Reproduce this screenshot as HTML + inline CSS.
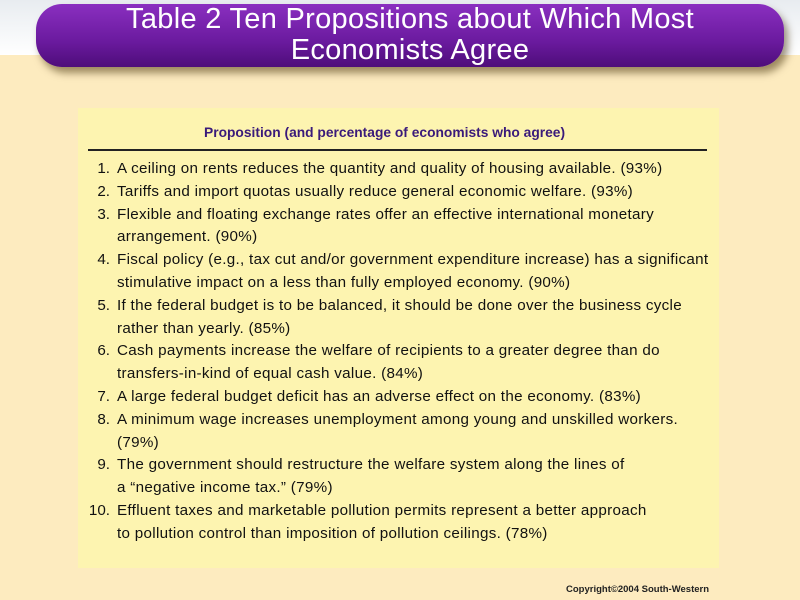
<!DOCTYPE html>
<html><head><meta charset="utf-8"><style>
body{margin:0;width:800px;height:600px;overflow:hidden;position:relative;font-family:"Liberation Sans",sans-serif;background:#fdebbf}
#top{position:absolute;left:0;top:0;width:800px;height:55px;background:linear-gradient(#e8ecf0,#ffffff)}
#banner{position:absolute;left:36px;top:4px;width:748px;height:63px;border-radius:26px;background:linear-gradient(#8a2fc0,#6a1a9e 60%,#4e0d7a);box-shadow:4px 6px 8px rgba(60,40,0,.5);color:#fff;text-align:center;font-size:29px;line-height:31px;letter-spacing:0.3px;padding-top:0px;box-sizing:border-box;white-space:nowrap}
#panel{position:absolute;left:78px;top:108px;width:641px;height:460px;background:#fdf4b0}
.h{position:absolute;left:204px;top:125px;font-size:13.8px;font-weight:bold;color:#3a1a7a}
#rule{position:absolute;left:88px;top:149px;width:619px;height:2px;background:#222}
.l{position:absolute;font-size:15.2px;color:#111;white-space:nowrap;letter-spacing:0.3px}
.n{position:absolute;font-size:15.2px;color:#111;text-align:right;width:30px;left:80px}
#copy{position:absolute;left:566px;top:584px;font-size:9.5px;font-weight:bold;color:#222}
</style></head><body>
<div id="top"></div>
<div id="banner">Table 2 Ten Propositions about Which Most<br>Economists Agree</div>
<div id="panel"></div>
<div class="h">Proposition (and percentage of economists who agree)</div>
<div id="rule"></div>
<div id="items"></div>
<div id="copy">Copyright©2004 South-Western</div>
<script>
const items=[
["1.",["A ceiling on rents reduces the quantity and quality of housing available. (93%)"]],
["2.",["Tariffs and import quotas usually reduce general economic welfare. (93%)"]],
["3.",["Flexible and floating exchange rates offer an effective international monetary","arrangement. (90%)"]],
["4.",["Fiscal policy (e.g., tax cut and/or government expenditure increase) has a significant","stimulative impact on a less than fully employed economy. (90%)"]],
["5.",["If the federal budget is to be balanced, it should be done over the business cycle","rather than yearly. (85%)"]],
["6.",["Cash payments increase the welfare of recipients to a greater degree than do","transfers-in-kind of equal cash value. (84%)"]],
["7.",["A large federal budget deficit has an adverse effect on the economy. (83%)"]],
["8.",["A minimum wage increases unemployment among young and unskilled workers.","(79%)"]],
["9.",["The government should restructure the welfare system along the lines of","a \u201cnegative income tax.\u201d (79%)"]],
["10.",["Effluent taxes and marketable pollution permits represent a better approach","to pollution control than imposition of pollution ceilings. (78%)"]]];
const c=document.getElementById('items');
let y=160;
items.forEach((it,i)=>{
 const n=document.createElement('div');n.className='n';n.style.top=y+'px';n.textContent=it[0];
 
 
 c.appendChild(n);
 it[1].forEach(t=>{
  const d=document.createElement('div');d.className='l';d.style.left='117px';d.style.top=y+'px';d.textContent=t;
  
  
  c.appendChild(d);y+=22.8;
 });
});
</script>
</body></html>
